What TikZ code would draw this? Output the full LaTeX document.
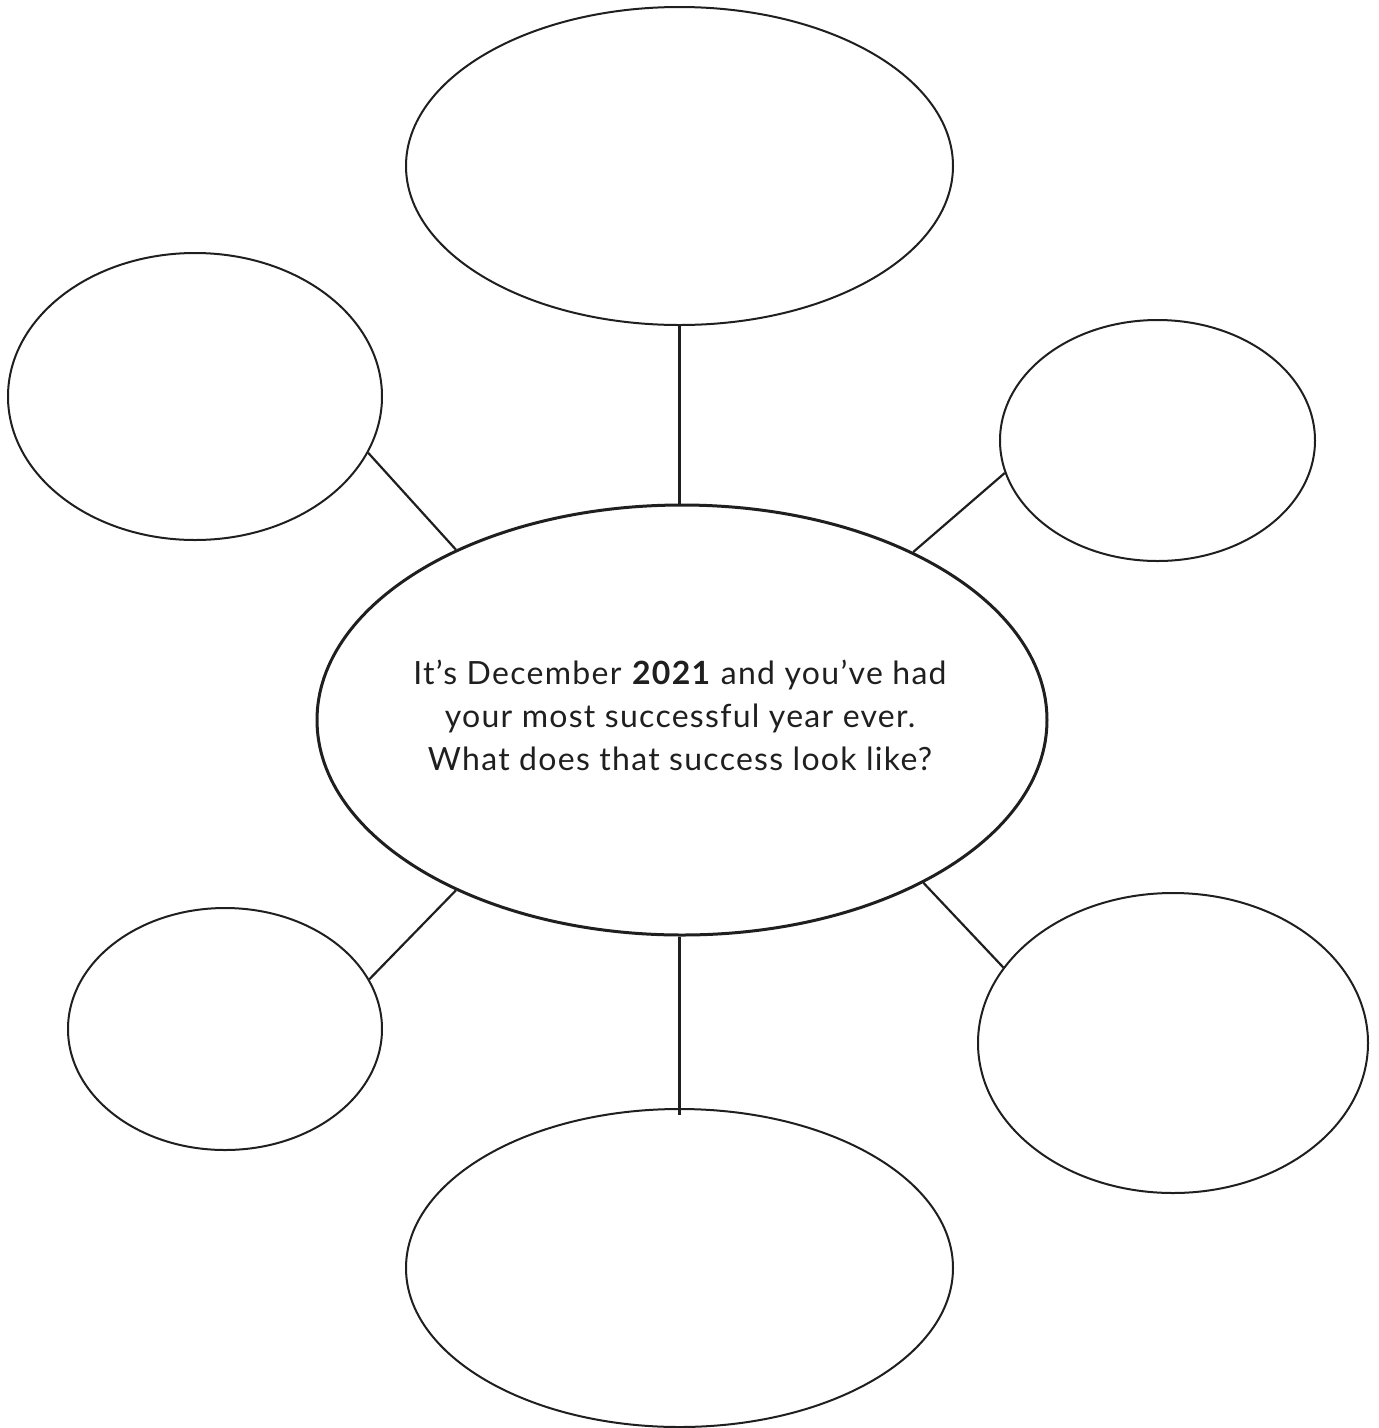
\documentclass[tikz,border=0pt]{standalone}
\usepackage{fontspec}
\setmainfont{Lato}[LetterSpace=4]
\usetikzlibrary{shapes.geometric,calc}
\tikzset{
  bub/.style={draw=black!88, ellipse, line width=2pt, inner sep=0pt},
  hub/.style={draw=black!88, ellipse, line width=3pt, inner sep=0pt},
  link/.style={draw=black!88, line width=2.2pt}
}
\begin{document}
\begin{tikzpicture}[x=1pt,y=-1pt]
\useasboundingbox (0,0) rectangle (1379,1428);
\node[hub, minimum width=730pt, minimum height=430pt] (c) at (682,720) {};
\node[bub, minimum width=547pt, minimum height=318pt] (t) at (679.5,166) {};
\node[bub, minimum width=547pt, minimum height=318pt] (b) at (679.5,1268) {};
\node[bub, minimum width=374pt, minimum height=287pt] (lt) at (195,396.5) {};
\node[bub, minimum width=315pt, minimum height=241pt] (rt) at (1157.5,440.5) {};
\node[bub, minimum width=314pt, minimum height=242pt] (lb) at (225,1029) {};
\node[bub, minimum width=390pt, minimum height=300pt] (rb) at (1173,1043) {};
\node[align=center, font=\fontsize{32}{43}\selectfont, text=black!88] (q) at (680,715)
  {It’s December \textbf{2021} and you’ve had\\your most successful year ever.\\What does that success look like?};
\draw[link] (t.south) -- (t.south |- c.north);
\draw[link] (b.north |- c.south) -- ($(b.north)+(0,7)$);
\draw[link] (lt.-18.6) -- (c.143.1);
\draw[link] (rt.192.2) -- (c.36.5);
\draw[link] (c.-143) -- (lb.19.3);
\draw[link] (c.-34) -- (rb.156.4);
\end{tikzpicture}
\end{document}
